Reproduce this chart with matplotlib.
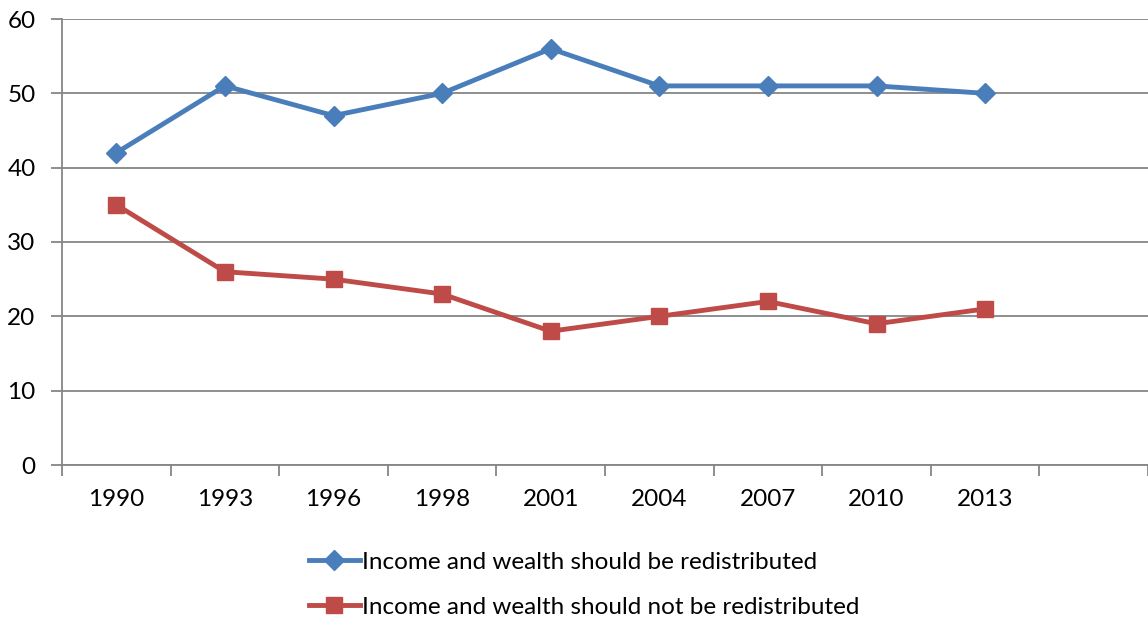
import matplotlib.pyplot as plt

years = ['1990', '1993', '1996', '1998', '2001', '2004', '2007', '2010', '2013']
redistribute = [42, 51, 47, 50, 56, 51, 51, 51, 50]
not_redistribute = [35, 26, 25, 23, 18, 20, 22, 19, 21]

plt.rcParams['font.family'] = ['Lato', 'DejaVu Sans']

fig = plt.figure(figsize=(11.48, 6.17), dpi=100)
ax = fig.add_axes([62 / 1148, 152 / 617, 1 - 62 / 1148, 446 / 617])

x = [i + 0.5 for i in range(len(years))]
ax.plot(x, redistribute, color='#4A7EBB', lw=3.5, marker='D', ms=10,
        label='Income and wealth should be redistributed')
ax.plot(x, not_redistribute, color='#BE4B48', lw=3.5, marker='s', ms=12,
        label='Income and wealth should not be redistributed')

ax.set_xlim(0, 10)
ax.set_ylim(0, 60)
ax.set_yticks(range(0, 61, 10))
ax.set_xticks(range(0, 11))
ax.set_xticklabels([])
ax.set_xticks(x, minor=True)
ax.set_xticklabels(years, minor=True)
ax.tick_params(axis='x', which='minor', length=0, pad=17, labelsize=17.5)
ax.tick_params(axis='x', which='major', length=8, width=1.3, color='#868686')
ax.tick_params(axis='y', length=8, width=1.3, color='#868686', labelsize=17.5, pad=11)
ax.grid(axis='y', color='#868686', lw=1.3)
ax.set_axisbelow(True)
for side in ['top', 'right']:
    ax.spines[side].set_visible(False)
for side in ['left', 'bottom']:
    ax.spines[side].set_color('#868686')
    ax.spines[side].set_linewidth(1.3)

ax.legend(loc='upper left', bbox_to_anchor=(225 / 1086, -0.145), frameon=False,
          fontsize=17.5, handlelength=2.1, handletextpad=0.1, labelspacing=1.0)

fig.savefig('out.png', dpi=100)
